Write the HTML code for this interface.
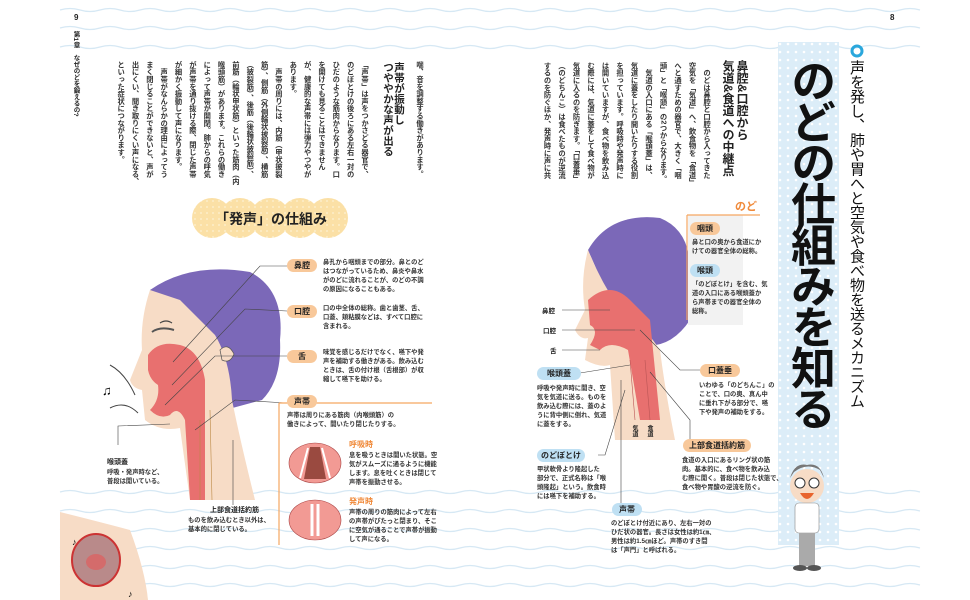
<!DOCTYPE html>
<html><head><meta charset="utf-8">
<style>
body{margin:0;background:#fff;}
#p{position:relative;width:970px;height:600px;overflow:hidden;background:#fff;font-family:"Liberation Sans","Noto Sans CJK JP",sans-serif;color:#222;}
.v{position:absolute;writing-mode:vertical-rl;white-space:nowrap;}
.a{position:absolute;white-space:nowrap;}
.pill{position:absolute;border-radius:8px;font-size:8px;font-weight:bold;text-align:center;line-height:13px;height:13px;}
.o{background:#f8c89a;}
.b{background:#bfe0f3;}
.t{position:absolute;font-size:6.3px;line-height:9px;white-space:nowrap;font-weight:bold;color:#333;}
</style></head><body><div id="p">
<svg width="970" height="600" style="position:absolute;left:0;top:0">
<defs>
<pattern id="dot" width="8" height="8" patternUnits="userSpaceOnUse"><rect width="8" height="8" fill="#dcedf8"/><circle cx="4" cy="4" r="1.3" fill="#fff"/></pattern>
<pattern id="yd" width="6" height="6" patternUnits="userSpaceOnUse"><rect width="6" height="6" fill="#fbe0a6"/><circle cx="3" cy="3" r="1" fill="#fdeec8"/></pattern>
</defs>
<g fill="none" stroke="#d6e8f4" stroke-width="1.2">
<path d="M60 10 q10 -3 20 0 t20 0 t20 0 t20 0 t20 0 t20 0 t20 0 t20 0 t20 0 t20 0 t20 0 t20 0 t20 0 t20 0 t20 0 t20 0 t20 0 t20 0 t20 0 t20 0 t20 0 t20 0 t20 0 t20 0 t20 0 t20 0 t20 0 t20 0 t20 0 t20 0 t20 0 t20 0 t20 0 t20 0 t20 0 t20 0 t20 0 t20 0 t20 0 t20 0 t20 0 t20 0 t20 0"/>
<path d="M60 28 q10 -3 20 0 t20 0 t20 0 t20 0 t20 0 t20 0 t20 0 t20 0 t20 0 t20 0 t20 0 t20 0 t20 0 t20 0 t20 0 t20 0 t20 0 t20 0 t20 0 t20 0 t20 0 t20 0 t20 0 t20 0 t20 0 t20 0 t20 0 t20 0 t20 0 t20 0 t20 0 t20 0 t20 0 t20 0 t20 0 t20 0 t20 0 t20 0 t20 0 t20 0 t20 0 t20 0 t20 0"/>
<path d="M60 47 q10 -3 20 0 t20 0 t20 0 t20 0 t20 0 t20 0 t20 0 t20 0 t20 0 t20 0 t20 0 t20 0 t20 0 t20 0 t20 0 t20 0 t20 0 t20 0 t20 0 t20 0 t20 0 t20 0 t20 0 t20 0 t20 0 t20 0 t20 0 t20 0 t20 0 t20 0 t20 0 t20 0 t20 0 t20 0 t20 0 t20 0 t20 0 t20 0 t20 0 t20 0 t20 0 t20 0 t20 0"/>
<path d="M60 492 q10 -3 20 0 t20 0 t20 0 t20 0 t20 0 t20 0 t20 0 t20 0 t20 0 t20 0 t20 0 t20 0 t20 0 t20 0 t20 0 t20 0 t20 0 t20 0 t20 0 t20 0 t20 0 t20 0 t20 0 t20 0 t20 0 t20 0 t20 0 t20 0 t20 0 t20 0 t20 0 t20 0 t20 0 t20 0 t20 0 t20 0 t20 0 t20 0 t20 0 t20 0 t20 0 t20 0 t20 0"/>
<path d="M60 511 q10 -3 20 0 t20 0 t20 0 t20 0 t20 0 t20 0 t20 0 t20 0 t20 0 t20 0 t20 0 t20 0 t20 0 t20 0 t20 0 t20 0 t20 0 t20 0 t20 0 t20 0 t20 0 t20 0 t20 0 t20 0 t20 0 t20 0 t20 0 t20 0 t20 0 t20 0 t20 0 t20 0 t20 0 t20 0 t20 0 t20 0 t20 0 t20 0 t20 0 t20 0 t20 0 t20 0 t20 0"/>
<path d="M60 530 q10 -3 20 0 t20 0 t20 0 t20 0 t20 0 t20 0 t20 0 t20 0 t20 0 t20 0 t20 0 t20 0 t20 0 t20 0 t20 0 t20 0 t20 0 t20 0 t20 0 t20 0 t20 0 t20 0 t20 0 t20 0 t20 0 t20 0 t20 0 t20 0 t20 0 t20 0 t20 0 t20 0 t20 0 t20 0 t20 0 t20 0 t20 0 t20 0 t20 0 t20 0 t20 0 t20 0 t20 0"/>
<path d="M60 548 q10 -3 20 0 t20 0 t20 0 t20 0 t20 0 t20 0 t20 0 t20 0 t20 0 t20 0 t20 0 t20 0 t20 0 t20 0 t20 0 t20 0 t20 0 t20 0 t20 0 t20 0 t20 0 t20 0 t20 0 t20 0 t20 0 t20 0 t20 0 t20 0 t20 0 t20 0 t20 0 t20 0 t20 0 t20 0 t20 0 t20 0 t20 0 t20 0 t20 0 t20 0 t20 0 t20 0 t20 0"/>
<path d="M60 567 q10 -3 20 0 t20 0 t20 0 t20 0 t20 0 t20 0 t20 0 t20 0 t20 0 t20 0 t20 0 t20 0 t20 0 t20 0 t20 0 t20 0 t20 0 t20 0 t20 0 t20 0 t20 0 t20 0 t20 0 t20 0 t20 0 t20 0 t20 0 t20 0 t20 0 t20 0 t20 0 t20 0 t20 0 t20 0 t20 0 t20 0 t20 0 t20 0 t20 0 t20 0 t20 0 t20 0 t20 0"/>
<path d="M60 585 q10 -3 20 0 t20 0 t20 0 t20 0 t20 0 t20 0 t20 0 t20 0 t20 0 t20 0 t20 0 t20 0 t20 0 t20 0 t20 0 t20 0 t20 0 t20 0 t20 0 t20 0 t20 0 t20 0 t20 0 t20 0 t20 0 t20 0 t20 0 t20 0 t20 0 t20 0 t20 0 t20 0 t20 0 t20 0 t20 0 t20 0 t20 0 t20 0 t20 0 t20 0 t20 0 t20 0 t20 0"/>
</g>
<!-- title strip -->
<rect x="778" y="42" width="61" height="503" fill="url(#dot)"/>
<circle cx="857" cy="51" r="5" fill="none" stroke="#2aa7dc" stroke-width="3"/>
<!-- hatsusei pill -->
<g fill="url(#yd)"><circle cx="212" cy="218" r="20"/><circle cx="240" cy="218" r="20"/><circle cx="270" cy="218" r="20"/><circle cx="300" cy="218" r="20"/><circle cx="328" cy="218" r="20"/></g>
<!-- LEFT HEAD -->
<path d="M150 290 Q190 262 250 272 Q285 290 280 340 Q282 380 262 400 L225 410 L180 330 Z" fill="#7b68b8"/>
<path d="M150 290 Q140 320 142 350 L130 380 Q132 388 142 390 L145 420 Q160 432 180 428 L190 500 L255 500 Q240 440 232 400 Q230 360 215 335 Q195 315 180 300 Z" fill="#f7dcc6"/>
<path d="M220 350 q8 -8 14 4 q-4 10 -12 6z" fill="#f7dcc6" stroke="#555" stroke-width=".7"/>
<path d="M148 355 Q158 340 180 345 Q200 350 205 380 L205 500 L190 500 L185 420 Q178 405 170 415 Q160 420 150 410 Q160 400 158 385 Q150 380 148 370 Z" fill="#e8706f"/>
<path d="M200 420 L200 500 M210 410 L212 500" stroke="#b84" stroke-width=".6" fill="none"/>
<path d="M160 323 q6 -4 12 0" stroke="#444" fill="none" stroke-width="1.2"/>
<path d="M152 332 q8 -6 22 -2" stroke="#555" fill="none" stroke-width="2"/>
<path d="M110 365 q15 8 25 30 M110 408 q15 -8 28 5" stroke="#444" fill="none"/>
<text x="102" y="395" font-size="13">♫</text>
<!-- lines left labels -->
<g stroke="#444" stroke-width=".6" fill="none">
<path d="M287 266 L260 266 L173 362"/><path d="M287 311 L245 309 L172 385"/><path d="M287 356 L215 356 L165 405"/><path d="M287 403 L235 400 L195 430"/>
<path d="M118 445 L118 426 L170 424"/><path d="M233 505 L233 440"/>
</g>
<!-- vocal cords diagram -->
<line x1="279" y1="403" x2="432" y2="403" stroke="#f5a662" stroke-width="1.2"/>
<line x1="279" y1="403" x2="279" y2="545" stroke="#f5a662" stroke-width="1.2"/>
<g>
<ellipse cx="315" cy="463" rx="26" ry="20" fill="#f29a94" stroke="#a44" stroke-width=".6"/>
<path d="M310 447 L304 479 L326 479 L320 447Z" fill="#9a4a40"/><path d="M308 448 L300 478 M322 448 L330 478" stroke="#fff" stroke-width="2"/>
<ellipse cx="315" cy="520" rx="26" ry="20" fill="#f29a94" stroke="#a44" stroke-width=".6"/>
<path d="M312 504 L312 536 M318 504 L318 536" stroke="#fff" stroke-width="3"/>
</g>
<!-- bottom-left mouth inset -->
<path d="M60 512 Q100 522 130 530 Q145 570 148 600 L60 600Z" fill="#f7dcc6"/>
<ellipse cx="96" cy="560" rx="24" ry="26" fill="#b98a8a" stroke="#c33" stroke-width="2"/>
<ellipse cx="96" cy="562" rx="10" ry="8" fill="#d46b6b"/>
<text x="72" y="545" font-size="9">♪</text><text x="128" y="597" font-size="9">♪</text>
<!-- RIGHT HEAD -->
<path d="M588 250 Q610 212 660 218 Q690 230 690 270 L690 320 Q670 350 640 345 L610 300 Z" fill="#7b68b8"/>
<path d="M588 250 Q580 280 585 310 L575 330 Q580 340 588 338 L585 360 Q600 368 610 365 L615 440 L675 440 Q665 390 660 350 Q640 320 620 310 Q600 280 588 250Z" fill="#f7dcc6"/>
<path d="M588 300 Q610 280 630 300 L650 320 L660 420 L640 420 L628 350 Q610 340 600 350 L590 345 Q600 330 590 325Z" fill="#e8706f"/>
<path d="M630 360 L635 420 M645 360 L650 420" stroke="#b55" stroke-width=".6"/>
<rect x="688" y="215" width="55" height="110" fill="#f2f2f2"/>
<line x1="687" y1="215" x2="687" y2="320" stroke="#f5a662" stroke-width="1.2"/>
<line x1="687" y1="215" x2="760" y2="215" stroke="#f5a662" stroke-width="1.2"/>
<g stroke="#444" stroke-width=".6" fill="none">
<path d="M562 310 L610 310"/><path d="M562 330 L635 330"/><path d="M562 350 L600 350"/>
<path d="M580 373 L630 365"/><path d="M598 455 L605 455 L625 390"/><path d="M621 505 L621 380"/><path d="M700 370 L680 370 L640 330"/><path d="M690 440 L690 420 L650 372"/>
</g>
<!-- character -->
<circle cx="807" cy="486" r="17" fill="#f7dcc6"/>
<path d="M790 478 Q795 462 807 465 Q820 462 824 478 L820 470 Q807 462 794 472Z" fill="#777"/>
<circle cx="800" cy="483" r="5" fill="#fff" stroke="#333"/><circle cx="814" cy="483" r="5" fill="#fff" stroke="#333"/>
<path d="M800 493 Q807 505 814 493Z" fill="#e8642e"/>
<rect x="795" y="503" width="24" height="30" rx="4" fill="#fff" stroke="#888" stroke-width=".6"/>
<rect x="799" y="533" width="16" height="33" fill="#aaa"/>
<ellipse cx="800" cy="568" rx="7" ry="3" fill="#555"/><ellipse cx="814" cy="568" rx="7" ry="3" fill="#555"/>
</svg>

<!-- page nums & chapter -->
<div class="a" style="left:74px;top:13px;font-size:8px;font-weight:bold">9</div>
<div class="a" style="left:890px;top:13px;font-size:8px;font-weight:bold">8</div>
<div class="v" style="left:71px;top:31px;font-size:6.5px;font-weight:bold;line-height:9px">第1章　なぜのどを鍛えるの?</div>

<!-- left text -->
<div class="v" style="right:543px;top:61px;font-size:7.3px;line-height:14.5px;font-weight:bold;color:#333">喘、音を調整する働きがあります。</div>
<div class="v" style="right:566px;top:62px;font-size:10.5px;line-height:11px;font-weight:bold">声帯が振動し<br>つややかな声が出る</div>
<div class="v" style="right:598px;top:61px;font-size:7.3px;line-height:14.35px;font-weight:bold;color:#333">「声帯」は声をつかさどる器官で、<br>のどぼとけの後ろにある左右一対の<br>ひだのような筋肉からなります。口<br>を開けても見ることはできません<br>が、健康的な声帯には弾力やつやが<br>あります。<br>　声帯の周りには、内筋（甲状披裂<br>筋）、側筋（外側輪状披裂筋）、横筋<br>（披裂筋）、後筋（後輪状披裂筋）、<br>前筋（輪状甲状筋）といった筋肉（内<br>喉頭筋）があります。これらの働き<br>によって声帯が開閉。肺からの呼気<br>が声帯を通り抜ける際、閉じた声帯<br>が細かく振動して声になります。<br>　声帯がなんらかの理由によってう<br>まく閉じることができないと、声が<br>出にくい、聞き取りにくい声になる、<br>といった症状につながります。</div>

<div class="a" style="left:198px;top:209px;width:146px;text-align:center;font-size:14px;font-weight:bold">「発声」の仕組み</div>

<div class="pill o" style="left:287px;top:259px;width:30px">鼻腔</div>
<div class="t" style="left:323px;top:258px">鼻孔から咽頭までの部分。鼻とのど<br>はつながっているため、鼻炎や鼻水<br>がのどに流れることが、のどの不調<br>の原因になることもある。</div>
<div class="pill o" style="left:287px;top:305px;width:30px">口腔</div>
<div class="t" style="left:323px;top:304px">口の中全体の総称。歯と歯茎、舌、<br>口蓋、頬粘膜などは、すべて口腔に<br>含まれる。</div>
<div class="pill o" style="left:287px;top:350px;width:30px">舌</div>
<div class="t" style="left:323px;top:348px">味覚を感じるだけでなく、嚥下や発<br>声を補助する働きがある。飲み込む<br>ときは、舌の付け根（舌根部）が収<br>縮して嚥下を助ける。</div>
<div class="pill o" style="left:287px;top:395px;width:30px">声帯</div>
<div class="t" style="left:287px;top:411px">声帯は周りにある筋肉（内喉頭筋）の<br>働きによって、開いたり閉じたりする。</div>
<div class="a" style="left:349px;top:439px;font-size:8px;font-weight:bold;color:#f08a3a">呼吸時</div>
<div class="t" style="left:349px;top:451px">息を吸うときは開いた状態。空<br>気がスムーズに通るように機能<br>します。息を吐くときは閉じて<br>声帯を振動させる。</div>
<div class="a" style="left:349px;top:496px;font-size:8px;font-weight:bold;color:#f08a3a">発声時</div>
<div class="t" style="left:349px;top:508px">声帯の周りの筋肉によって左右<br>の声帯がぴたっと閉まり、そこ<br>に空気が通ることで声帯が振動<br>して声になる。</div>
<div class="a" style="left:107px;top:457px;font-size:7px;font-weight:bold">喉頭蓋</div>
<div class="t" style="left:107px;top:468px">呼吸・発声時など、<br>普段は開いている。</div>
<div class="a" style="left:210px;top:505px;font-size:7px;font-weight:bold">上部食道括約筋</div>
<div class="t" style="left:188px;top:516px">ものを飲み込むとき以外は、<br>基本的に閉じている。</div>

<!-- right text -->
<div class="v" style="right:221px;top:60px;font-size:12px;line-height:14px;font-weight:bold">鼻腔&amp;口腔から<br>気道&amp;食道への中継点</div>
<div class="v" style="right:256px;top:62px;font-size:7.3px;line-height:14.5px;font-weight:bold;color:#333">　のどは鼻腔と口腔から入ってきた<br>空気を「気道」へ、飲食物を「食道」<br>へと通すための器官で、大きく「咽<br>頭」と「喉頭」の2つからなります。<br>　気道の入口にある「喉頭蓋」は、<br>気道に蓋をしたり開いたりする役割<br>を担っています。呼吸時や発声時に<br>は開いていますが、食べ物を飲み込<br>む際には、気道に蓋をして食べ物が<br>気道に入るのを防ぎます。「口蓋垂」<br>（のどちんこ）は食べたものが逆流<br>するのを防ぐほか、発声時に声に共</div>

<div class="v" style="left:784px;top:58px;font-size:45px;line-height:50px;font-weight:bold;letter-spacing:-4px;color:#111">のどの仕組みを知る</div>
<div class="v" style="left:847px;top:60px;font-size:15px;line-height:18px;color:#111;letter-spacing:-0.5px">声を発し、肺や胃へと空気や食べ物を送るメカニズム</div>

<div class="a" style="left:735px;top:198px;font-size:11px;font-weight:bold;color:#f08a3a">のど</div>
<div class="pill o" style="left:690px;top:222px;width:30px">咽頭</div>
<div class="t" style="left:692px;top:238px">鼻と口の奥から食道にか<br>けての器官全体の総称。</div>
<div class="pill b" style="left:690px;top:264px;width:30px">喉頭</div>
<div class="t" style="left:692px;top:280px">「のどぼとけ」を含む、気<br>道の入口にある喉頭蓋か<br>ら声帯までの器官全体の<br>総称。</div>
<div class="a" style="left:542px;top:305px;font-size:6.5px;font-weight:bold">鼻腔</div>
<div class="a" style="left:543px;top:325px;font-size:6.5px;font-weight:bold">口腔</div>
<div class="a" style="left:550px;top:345px;font-size:6.5px;font-weight:bold">舌</div>
<div class="pill b" style="left:537px;top:367px;width:44px">喉頭蓋</div>
<div class="t" style="left:537px;top:384px">呼吸や発声時に開き、空<br>気を気道に送る。ものを<br>飲み込む際には、蓋のよ<br>うに背中側に倒れ、気道<br>に蓋をする。</div>
<div class="pill o" style="left:700px;top:364px;width:40px">口蓋垂</div>
<div class="t" style="left:699px;top:381px">いわゆる「のどちんこ」の<br>ことで、口の奥、真ん中<br>に垂れ下がる部分で、嚥<br>下や発声の補助をする。</div>
<div class="pill b" style="left:537px;top:449px;width:48px">のどぼとけ</div>
<div class="t" style="left:537px;top:465px">甲状軟骨より隆起した<br>部分で、正式名称は「喉<br>頭隆起」という。飲食時<br>には嚥下を補助する。</div>
<div class="pill o" style="left:683px;top:439px;width:68px">上部食道括約筋</div>
<div class="t" style="left:682px;top:456px">食道の入口にあるリング状の筋<br>肉。基本的に、食べ物を飲み込<br>む際に開く。普段は閉じた状態で、<br>食べ物や胃酸の逆流を防ぐ。</div>
<div class="pill b" style="left:612px;top:503px;width:30px">声帯</div>
<div class="t" style="left:611px;top:519px">のどぼとけ付近にあり、左右一対の<br>ひだ状の器官。長さは女性は約1㎝、<br>男性は約1.5㎝ほど。声帯のすき間<br>は「声門」と呼ばれる。</div>
<div class="v" style="left:630px;top:425px;font-size:6px;font-weight:bold">気道</div>
<div class="v" style="left:645px;top:425px;font-size:6px;font-weight:bold">食道</div>
</div></body></html>
